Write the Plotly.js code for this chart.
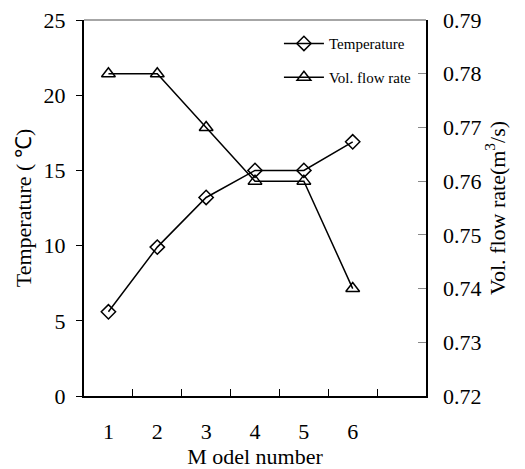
<!DOCTYPE html>
<html><head><meta charset="utf-8">
<script src="https://cdn.plot.ly/plotly-3.0.1.min.js"></script>
<style>body{margin:0}#c{width:525px;height:469px}</style>
</head><body><div id="c"></div>
<script>
const models = [1, 2, 3, 4, 5, 6];
const modelLabels = ['1', '2', '3', '4', '5', '6'];
const temperature = [5.6, 9.9, 13.2, 15.0, 15.0, 16.9];
const flowRate = [0.78, 0.78, 0.77, 0.76, 0.76, 0.74];

const F = 'Liberation Serif';
const traces = [
  {x: models, y: temperature, name: 'Temperature', type: 'scatter', mode: 'lines+markers',
   line: {color: '#000', width: 1.5}, marker: {symbol: 'diamond-open', size: 11, color: '#000', line: {width: 1.5}},
   legend: 'legend'},
  {x: models, y: flowRate, name: 'Vol. flow rate', type: 'scatter', mode: 'lines+markers', yaxis: 'y2',
   line: {color: '#000', width: 1.5}, marker: {symbol: 'triangle-up-open', size: 12, color: '#000', line: {width: 1.5}},
   legend: 'legend2'}
];
const legFont = {size: 15, family: F, color: '#000'};
const layout = {
  width: 525, height: 469,
  margin: {l: 84, r: 99, t: 20, b: 73},
  paper_bgcolor: '#fff', plot_bgcolor: '#fff',
  font: {family: F, color: '#000', size: 22},
  showlegend: true,
  legend: {x: 0.57, y: 0.937, xanchor: 'left', yanchor: 'middle', bgcolor: 'rgba(0,0,0,0)', font: legFont, itemwidth: 40},
  legend2: {x: 0.57, y: 0.847, xanchor: 'left', yanchor: 'middle', bgcolor: 'rgba(0,0,0,0)', font: legFont, itemwidth: 40},
  xaxis: {range: [0.5, 7.5], tickmode: 'array', tickvals: models, ticktext: modelLabels, ticks: '',
    showgrid: false, zeroline: false, showline: true, linecolor: '#000', linewidth: 2,
    ticklabelstandoff: 15, tickfont: {size: 22, family: F},
    minor: {tickvals: [1.5, 2.5, 3.5, 4.5, 5.5, 6.5], ticks: 'inside', ticklen: 7, tickcolor: '#000', tickwidth: 1, showgrid: false},
    title: {text: 'M odel number', font: {size: 22, family: F}, standoff: 0}},
  yaxis: {range: [0, 25], dtick: 5, ticks: 'outside', ticklen: 6, tickcolor: '#000', tickwidth: 1,
    showgrid: false, zeroline: false, showline: true, linecolor: '#000', linewidth: 2, tickfont: {size: 22, family: F},
    ticklabelstandoff: 6,
    title: {text: 'Temperature ( ℃)', font: {size: 22, family: F}, standoff: 6}},
  yaxis2: {range: [0.72, 0.79], dtick: 0.01, tickformat: '.2f', overlaying: 'y', side: 'right', ticks: 'inside', ticklen: 8,
    tickcolor: '#888', tickwidth: 1, showgrid: false, zeroline: false, showline: true, linecolor: '#000', linewidth: 1.5,
    tickfont: {size: 22, family: F}, ticklabelstandoff: 11,
    title: {text: 'Vol. flow rate(m<sup>3</sup>/s)', font: {size: 22, family: F}, standoff: 8}},
  shapes: [{type: 'line', xref: 'paper', yref: 'paper', x0: 0, x1: 1, y0: 1, y1: 1, line: {color: '#888', width: 1.5}}]
};
Plotly.newPlot('c', traces, layout, {displayModeBar: false, staticPlot: true});
</script></body></html>
